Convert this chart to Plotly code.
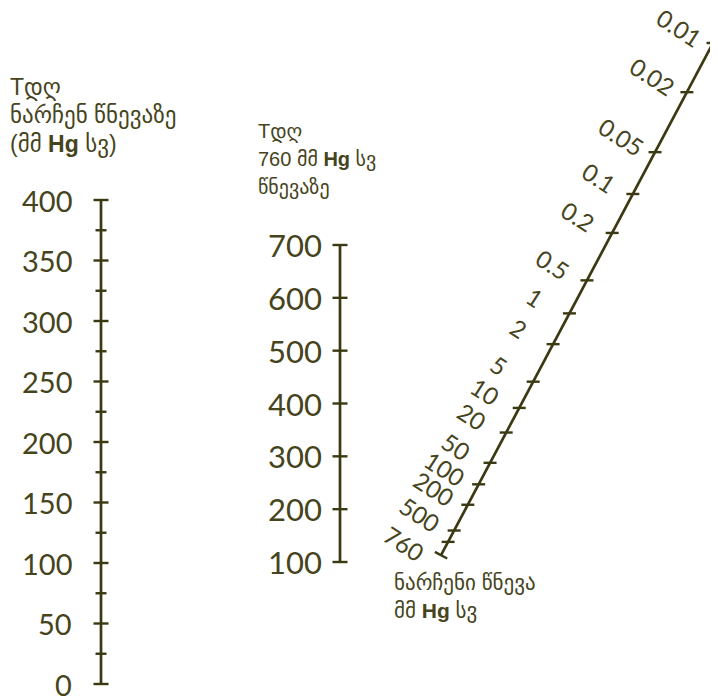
import numpy as np
import plotly.graph_objects as go

W, H = 718, 696
OFF = 8  # the page body margin that sits in front of the figure
INK = "#3b3912"
TEXT = "#46441c"
NUM_FONT = "Lato, Liberation Sans, sans-serif"
GEO_FONT = "Liberation Sans, DejaVu Sans, sans-serif"

# ── data ────────────────────────────────────
# A: boiling point at residual pressure (°C)
t_obs_minor = list(range(0, 401, 25))
t_obs_major = [0, 50, 100, 150, 200, 250, 300, 350, 400]
# B: boiling point at 760 mm Hg (°C)
t_760_major = [100, 200, 300, 400, 500, 600, 700]
# C: residual pressure (mm Hg)
p_ticks = [0.01, 0.02, 0.05, 0.1, 0.2, 0.5, 1, 2, 5, 10, 20, 50, 100, 200, 500, 760]
p_labels = ["0.01", "0.02", "0.05", "0.1", "0.2", "0.5", "1", "2", "5", "10",
            "20", "50", "100", "200", "500", "760"]
p_axis_end = 1250

title_a = ["Tდღ", "ნარჩენ წნევაზე", "(მმ <b>Hg</b> სვ)"]
title_b = ["Tდღ", "760 მმ <b>Hg</b> სვ", "წნევაზე"]
title_c = ["ნარჩენი წნევა", "მმ <b>Hg</b> სვ"]


# ── scale geometry (page pixels) ──
def value_range(v0, y0, v1, y1):
    """y-axis range so that value v0 sits at page row y0 and v1 at row y1."""
    k = (v1 - v0) / (y0 - y1)
    return [v0 - (H - y0) * k, v0 + (y0 - OFF) * k]


X_A, X_B = 101, 340
range_a = value_range(0, 684, 400, 200)
range_b = value_range(100, 562, 700, 245)


def p_scale(p):
    """Position of a pressure on the slanted nomograph scale."""
    u = np.log10(np.asarray(p, dtype=float)) + 2
    s = 169 * u - 19.14 * u ** 2 + 1.118 * u ** 3
    return 713 - 0.531 * s, 43 + s


def hticks(x, values, half):
    xs, ys = [], []
    for v in values:
        xs += [x - half, x + half, None]
        ys += [v, v, None]
    return xs, ys


fig = go.Figure()
line = dict(color=INK, width=2.7)
tick = dict(color=INK, width=2.4)

# Scale A
fig.add_trace(go.Scatter(x=[X_A, X_A], y=[min(t_obs_major), max(t_obs_major)],
                         mode="lines", line=line, yaxis="y"))
xs, ys = hticks(X_A, [t for t in t_obs_minor if t not in t_obs_major], 5.5)
fig.add_trace(go.Scatter(x=xs, y=ys, mode="lines", line=tick, yaxis="y"))
xs, ys = hticks(X_A, t_obs_major, 7.5)
fig.add_trace(go.Scatter(x=xs, y=ys, mode="lines", line=tick, yaxis="y"))

# Scale B
fig.add_trace(go.Scatter(x=[X_B, X_B], y=[min(t_760_major), max(t_760_major)],
                         mode="lines", line=line, yaxis="y2"))
xs, ys = hticks(X_B, t_760_major, 7.5)
fig.add_trace(go.Scatter(x=xs, y=ys, mode="lines", line=tick, yaxis="y2"))

# Scale C (slanted)
lx, ly = p_scale([p_ticks[0], p_axis_end])
fig.add_trace(go.Scatter(x=lx, y=ly, mode="lines", line=line, yaxis="y3"))
px, py = p_scale(p_ticks)
xs, ys = [], []
for a, b in zip(px, py):
    xs += [a - 6.5, a + 6.5, None]
    ys += [b, b, None]
fig.add_trace(go.Scatter(x=xs, y=ys, mode="lines", line=tick, yaxis="y3"))
# end cap, perpendicular to the scale
d = np.array([lx[1] - lx[0], ly[1] - ly[0]])
d /= np.hypot(*d)
n = np.array([d[1], -d[0]]) * 7
fig.add_trace(go.Scatter(x=[lx[1] - n[0], lx[1] + n[0]], y=[ly[1] - n[1], ly[1] + n[1]],
                         mode="lines", line=tick, yaxis="y3"))

ann = []
for t in t_obs_major:
    ann.append(dict(x=X_A - 27, y=t, yref="y", text=str(t), xanchor="right",
                    yanchor="middle", font=dict(family=NUM_FONT, size=29, color=TEXT)))
for t in t_760_major:
    ann.append(dict(x=X_B - 16, y=t, yref="y2", text=str(t), xanchor="right",
                    yanchor="middle", font=dict(family=NUM_FONT, size=31, color=TEXT)))
for i, (a, b, lab) in enumerate(zip(px, py, p_labels)):
    last = i == len(p_labels) - 1
    ann.append(dict(x=a, y=b, yref="y3", text=lab, xanchor="center", yanchor="middle",
                    xshift=-44 if last else -34, yshift=-2 if last else 16,
                    textangle=33, font=dict(family=NUM_FONT, size=24, color=TEXT)))


def title(lines, x, ys, size):
    for s, y in zip(lines, ys):
        ann.append(dict(x=x, y=y, yref="y3", text=s, xanchor="left", yanchor="middle",
                        font=dict(family=GEO_FONT, size=size, color=TEXT)))


title(title_a, 8, [87, 115, 144], 23)
title(title_b, 256, [131, 159, 187], 20)
title(title_c, 392, [583, 611], 21)

for a in ann:
    a.update(xref="x", showarrow=False)

fig.update_layout(
    width=W - OFF, height=H - OFF,
    margin=dict(l=0, r=0, t=0, b=0),
    paper_bgcolor="white", plot_bgcolor="white",
    showlegend=False, hovermode=False,
    xaxis=dict(range=[OFF, W], visible=False, fixedrange=True),
    yaxis=dict(range=range_a, visible=False, fixedrange=True),
    yaxis2=dict(range=range_b, visible=False, overlaying="y", fixedrange=True),
    yaxis3=dict(range=[H, OFF], visible=False, overlaying="y", fixedrange=True),
    annotations=ann,
)

fig.write_html("out.html")
